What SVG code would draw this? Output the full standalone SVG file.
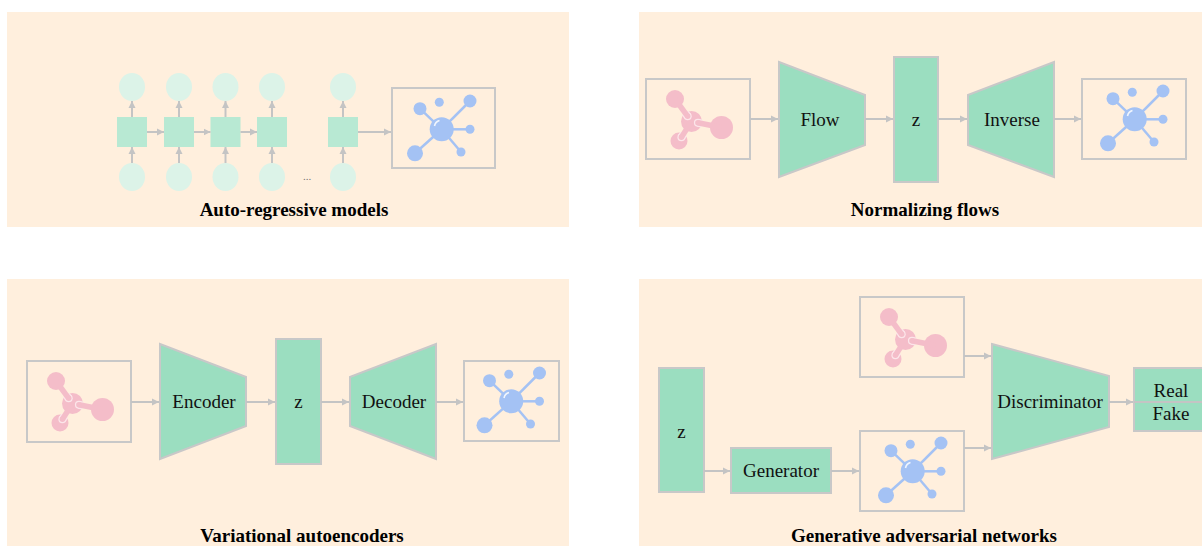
<svg xmlns="http://www.w3.org/2000/svg" xmlns:xlink="http://www.w3.org/1999/xlink" width="1202" height="546" viewBox="0 0 1202 546">
<style>
.panel{fill:#FFEFDD}
.shape{fill:#9BDEC0;stroke:#C8C8C8;stroke-width:2}
.box{fill:none;stroke:#C8C8C8;stroke-width:2}
.conn{stroke:#C4C4C4;stroke-width:2;fill:none;marker-end:url(#ah)}
.lbl{font-family:"Liberation Serif","Times New Roman",serif;font-size:19px;fill:#111;text-anchor:middle}
.title{font-family:"Liberation Serif","Times New Roman",serif;font-size:19px;font-weight:bold;fill:#000;text-anchor:middle}
.rc{fill:#DCF3E8}
.rs{fill:#B8E9D3}
.pk{fill:#F4BDC9}
.bl{fill:#A4C2F4}
.rim{stroke:#FCE6EA;stroke-width:8}
.bond{stroke:#F4BDC9;stroke-width:5.5}
</style>
<defs>
<marker id="ah" markerUnits="userSpaceOnUse" markerWidth="8" markerHeight="8" refX="7" refY="4" orient="auto">
<path d="M0,0.5 L7,4 L0,7.5 z" fill="#C4C4C4"/>
</marker>
<g id="molP">
<circle class="pk" cx="29" cy="20" r="9"/>
<circle class="pk" cx="45.5" cy="42.5" r="10.5"/>
<circle class="pk" cx="75.5" cy="48.5" r="11.5"/>
<circle class="pk" cx="33" cy="62" r="8.5"/>
<line class="rim" x1="39.3" y1="34" x2="41.7" y2="37.3"/>
<circle cx="41.7" cy="37.3" r="4" fill="#FCE6EA"/>
<line class="rim" x1="55.8" y1="44.56" x2="51.9" y2="43.8"/>
<circle cx="51.9" cy="43.8" r="4" fill="#FCE6EA"/>
<line class="rim" x1="37.6" y1="54.85" x2="35.4" y2="58.2"/>
<circle cx="35.4" cy="58.2" r="4" fill="#FCE6EA"/>
<line class="bond" x1="29" y1="20" x2="41.7" y2="37.3"/>
<circle class="pk" cx="41.7" cy="37.3" r="2.75"/>
<line class="bond" x1="75.5" y1="48.5" x2="51.9" y2="43.8"/>
<circle class="pk" cx="51.9" cy="43.8" r="2.75"/>
<line class="bond" x1="45.5" y1="42.5" x2="35.4" y2="58.2"/>
<circle class="pk" cx="35.4" cy="58.2" r="2.75"/>
</g>
<g id="molB">
<g stroke="#A4C2F4" stroke-width="2.5">
<line x1="52.7" y1="40.3" x2="31" y2="19.7"/>
<line x1="52.7" y1="40.3" x2="81" y2="12"/>
<line x1="52.7" y1="40.3" x2="81" y2="40.3"/>
<line x1="52.7" y1="40.3" x2="72" y2="63"/>
<line x1="52.7" y1="40.3" x2="26" y2="64.3"/>
</g>
<circle class="bl" cx="52.7" cy="40.3" r="12"/>
<circle class="bl" cx="31" cy="19.7" r="6.5"/>
<circle class="bl" cx="50.3" cy="13.3" r="4.5"/>
<circle class="bl" cx="81" cy="12" r="6.5"/>
<circle class="bl" cx="81" cy="40.3" r="4.5"/>
<circle class="bl" cx="72" cy="63" r="4.5"/>
<circle class="bl" cx="26" cy="64.3" r="8"/>
<path d="M45.5,37 Q46.5,32.5 50.5,31.5" stroke="#FFFFFF" stroke-width="1.6" fill="none" opacity="0.85"/>
</g>
</defs>

<g id="panels">
<rect class="panel" x="7" y="12" width="562" height="215"/>
<rect class="panel" x="639" y="12" width="563" height="215"/>
<rect class="panel" x="7" y="279" width="562" height="267"/>
<rect class="panel" x="639" y="279" width="563" height="267"/>
</g>

<!-- Auto-regressive -->
<g id="ar-nodes">
<g id="ar-out1"><ellipse class="rc" cx="132" cy="87" rx="13" ry="14"/></g>
<g id="ar-out2"><ellipse class="rc" cx="179" cy="87" rx="13" ry="14"/></g>
<g id="ar-out3"><ellipse class="rc" cx="225.5" cy="87" rx="13" ry="14"/></g>
<g id="ar-out4"><ellipse class="rc" cx="272" cy="87" rx="13" ry="14"/></g>
<g id="ar-out5"><ellipse class="rc" cx="343" cy="87" rx="13" ry="14"/></g>
<g id="ar-cell1"><rect class="rs" x="117" y="117" width="30" height="30"/></g>
<g id="ar-cell2"><rect class="rs" x="164" y="117" width="30" height="30"/></g>
<g id="ar-cell3"><rect class="rs" x="210.5" y="117" width="30" height="30"/></g>
<g id="ar-cell4"><rect class="rs" x="257" y="117" width="30" height="30"/></g>
<g id="ar-cell5"><rect class="rs" x="328" y="117" width="30" height="30"/></g>
<g id="ar-in1"><ellipse class="rc" cx="132" cy="177" rx="13" ry="14"/></g>
<g id="ar-in2"><ellipse class="rc" cx="179" cy="177" rx="13" ry="14"/></g>
<g id="ar-in3"><ellipse class="rc" cx="225.5" cy="177" rx="13" ry="14"/></g>
<g id="ar-in4"><ellipse class="rc" cx="272" cy="177" rx="13" ry="14"/></g>
<g id="ar-in5"><ellipse class="rc" cx="343" cy="177" rx="13" ry="14"/></g>
<g id="ar-dots"><text x="307" y="180" font-family="Liberation Serif, serif" font-size="11" fill="#777" text-anchor="middle">...</text></g>
<g id="ar-mol"><rect class="box" x="392" y="88" width="103" height="80"/><use xlink:href="#molB" href="#molB" x="389" y="89"/></g>
<g id="ar-title"><text class="title" x="294" y="216">Auto-regressive models</text></g>
</g>

<!-- Normalizing flows -->
<g id="nf-in"><rect class="box" x="646" y="79" width="104" height="80"/><use xlink:href="#molP" href="#molP" x="646" y="79"/></g>
<g id="nf-flow"><polygon class="shape" points="779,62 865,95 865,145 779,177"/><text class="lbl" x="820" y="126">Flow</text></g>
<g id="nf-z"><rect class="shape" x="894" y="57" width="44" height="125"/><text class="lbl" x="916" y="126">z</text></g>
<g id="nf-inverse"><polygon class="shape" points="968,95 1054,62 1054,177 968,145"/><text class="lbl" x="1012" y="126">Inverse</text></g>
<g id="nf-out"><rect class="box" x="1082" y="79" width="104" height="80"/><use xlink:href="#molB" href="#molB" x="1082" y="79"/></g>
<g id="nf-title"><text class="title" x="925" y="216">Normalizing flows</text></g>

<!-- VAE -->
<g id="vae-in"><rect class="box" x="27" y="361" width="104" height="81"/><use xlink:href="#molP" href="#molP" x="27" y="361"/></g>
<g id="vae-enc"><polygon class="shape" points="160,344 246,377 246,426 160,459"/><text class="lbl" x="204" y="408">Encoder</text></g>
<g id="vae-z"><rect class="shape" x="276" y="339" width="45" height="125"/><text class="lbl" x="298.5" y="408">z</text></g>
<g id="vae-dec"><polygon class="shape" points="350,377 436,344 436,459 350,426"/><text class="lbl" x="394" y="408">Decoder</text></g>
<g id="vae-out"><rect class="box" x="464" y="361" width="95" height="80"/><use xlink:href="#molB" href="#molB" x="458.5" y="361"/></g>
<g id="vae-title"><text class="title" x="302" y="542">Variational autoencoders</text></g>

<!-- GAN -->
<g id="gan-z"><rect class="shape" x="659" y="368" width="45" height="124"/><text class="lbl" x="681.5" y="438">z</text></g>
<g id="gan-gen"><rect class="shape" x="731" y="448" width="100" height="45"/><text class="lbl" x="781" y="477">Generator</text></g>
<g id="gan-real"><rect class="box" x="860" y="297" width="104" height="80"/><use xlink:href="#molP" href="#molP" x="860" y="297"/></g>
<g id="gan-fake"><rect class="box" x="860" y="431" width="104" height="80"/><use xlink:href="#molB" href="#molB" x="860" y="431"/></g>
<g id="gan-disc"><polygon class="shape" points="992,344 1109,376 1109,427 992,459"/><text class="lbl" x="1050" y="408">Discriminator</text></g>
<g id="gan-out"><rect class="shape" x="1134" y="368" width="80" height="63"/><line x1="1134" y1="402" x2="1202" y2="402" stroke="#C4C4C4" stroke-width="2"/><text class="lbl" x="1171" y="397">Real</text><text class="lbl" x="1171" y="420">Fake</text></g>
<g id="gan-title"><text class="title" x="924" y="542">Generative adversarial networks</text></g>

<g id="connectors">
<line class="conn" x1="132" y1="117" x2="132" y2="101"/>
<line class="conn" x1="179" y1="117" x2="179" y2="101"/>
<line class="conn" x1="225.5" y1="117" x2="225.5" y2="101"/>
<line class="conn" x1="272" y1="117" x2="272" y2="101"/>
<line class="conn" x1="343" y1="117" x2="343" y2="101"/>
<line class="conn" x1="132" y1="163" x2="132" y2="147"/>
<line class="conn" x1="179" y1="163" x2="179" y2="147"/>
<line class="conn" x1="225.5" y1="163" x2="225.5" y2="147"/>
<line class="conn" x1="272" y1="163" x2="272" y2="147"/>
<line class="conn" x1="343" y1="163" x2="343" y2="147"/>
<line class="conn" x1="147" y1="132" x2="164" y2="132"/>
<line class="conn" x1="194" y1="132" x2="210.5" y2="132"/>
<line class="conn" x1="240.5" y1="132" x2="257" y2="132"/>
<line class="conn" x1="358" y1="132" x2="391" y2="132"/>
<line class="conn" x1="750" y1="119" x2="778" y2="119"/>
<line class="conn" x1="865" y1="119" x2="893" y2="119"/>
<line class="conn" x1="938" y1="119" x2="967" y2="119"/>
<line class="conn" x1="1054" y1="119" x2="1081" y2="119"/>
<line class="conn" x1="131" y1="402" x2="159" y2="402"/>
<line class="conn" x1="246" y1="402" x2="275" y2="402"/>
<line class="conn" x1="321" y1="402" x2="349" y2="402"/>
<line class="conn" x1="436" y1="402" x2="463" y2="402"/>
<line class="conn" x1="704" y1="471" x2="730" y2="471"/>
<line class="conn" x1="831" y1="471" x2="859" y2="471"/>
<line class="conn" x1="964" y1="356" x2="991" y2="356"/>
<line class="conn" x1="964" y1="448" x2="991" y2="448"/>
<line class="conn" x1="1109" y1="402" x2="1133" y2="402"/>
</g>
</svg>
